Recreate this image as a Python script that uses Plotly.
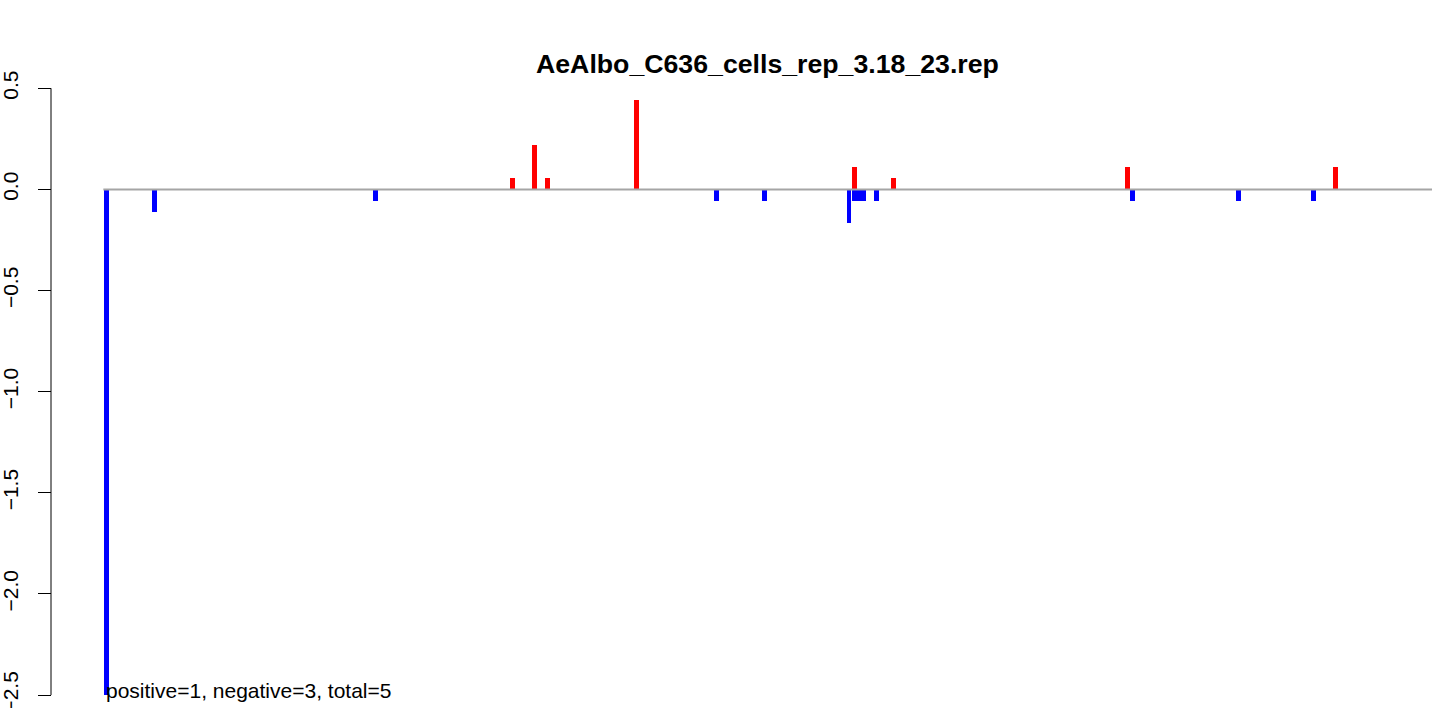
import plotly.graph_objects as go

# ---- data (positions along the sequence) ----
neg_pos = [0.67, 10.79, 57.52, 129.36, 139.47, 157.21, 158.27, 159.22, 160.17, 162.94, 217.01, 239.34, 255.14]
neg_val = [-2.5, -0.111, -0.0556, -0.0556, -0.0556, -0.167, -0.0556, -0.0556, -0.0556, -0.0556, -0.0556, -0.0556, -0.0556]
pos_pos = [86.38, 91.02, 93.76, 112.51, 158.27, 166.65, 215.95, 259.78]
pos_val = [0.0556, 0.222, 0.0556, 0.444, 0.111, 0.0556, 0.111, 0.111]

y_ticks = [-2.5, -2.0, -1.5, -1.0, -0.5, 0.0, 0.5]
y_tick_text = ["\u22122.5", "\u22122.0", "\u22121.5", "\u22121.0", "\u22120.5", "0.0", "0.5"]

title_text = "AeAlbo_C636_cells_rep_3.18_23.rep"
note_text = "positive=1, negative=3, total=5"

FONT = "Liberation Sans, Arial, Helvetica, sans-serif"
BAR_W = 1.053

fig = go.Figure()
fig.add_trace(go.Bar(x=pos_pos, y=pos_val, width=BAR_W, marker=dict(color="#FF0000", line=dict(width=0)),
                     showlegend=False, hoverinfo="x+y"))
fig.add_trace(go.Bar(x=neg_pos, y=neg_val, width=BAR_W, marker=dict(color="#0000FF", line=dict(width=0)),
                     showlegend=False, hoverinfo="x+y"))

# zero line across the plotting region
fig.add_shape(type="line", xref="x domain", yref="y", x0=0, x1=1, y0=0, y1=0,
              line=dict(color="#A5A5A5", width=2), layer="above")
# y-axis line spanning only the tick range (R style)
fig.add_shape(type="line", xref="paper", yref="y", x0=0, x1=0, y0=min(y_ticks), y1=max(y_ticks),
              line=dict(color="black", width=1))

fig.add_annotation(text="<b>" + title_text + "</b>", xref="x domain", yref="paper", x=0.5, y=1.0,
                   xanchor="center", yanchor="middle", showarrow=False,
                   font=dict(family=FONT, size=26.7, color="black"))
fig.add_annotation(text=note_text, xref="x", yref="y", x=neg_pos[0] - BAR_W / 2, y=min(y_ticks),
                   xanchor="left", yanchor="middle", yshift=5, showarrow=False,
                   font=dict(family=FONT, size=21, color="black"))

fig.update_layout(
    width=1439, height=708,
    margin=dict(l=51, r=7, t=64, b=0, autoexpand=False),
    paper_bgcolor="white", plot_bgcolor="white",
    barmode="overlay", bargap=0,
    xaxis=dict(domain=[0.0379, 1], range=[0, 280], visible=False, automargin=False),
    yaxis=dict(anchor="free", position=0, range=[-2.564, 0.62], automargin=False,
               tickvals=y_ticks, ticktext=y_tick_text, tickangle=-90,
               ticks="outside", ticklen=13, tickwidth=1, tickcolor="black",
               ticklabelstandoff=12, ticklabeloverflow="allow",
               showline=False, showgrid=False, zeroline=False,
               tickfont=dict(family=FONT, size=21, color="black")),
    font=dict(family=FONT),
)

fig.write_html("out.html", config={"displayModeBar": False},
               post_script="document.body.style.margin='0';document.body.style.padding='0';document.body.style.overflow='hidden';")
